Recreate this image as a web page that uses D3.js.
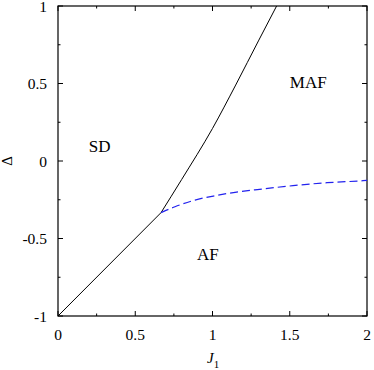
<!DOCTYPE html>
<html><head><meta charset="utf-8">
<script src="https://cdn.jsdelivr.net/npm/d3@7"></script>
<style>body{margin:0;background:#fff}svg{display:block}
svg text{font-family:"Liberation Serif","Times New Roman","DejaVu Serif",serif}</style>
</head><body>
<script>
// Data
const xTicks = [0, 0.5, 1, 1.5, 2];
const xTickLabels = ["0", "0.5", "1", "1.5", "2"];
const yTicks = [-1, -0.5, 0, 0.5, 1];
const yTickLabels = ["-1", "-0.5", "0", "0.5", "1"];
const xMinor = [0.25, 0.75, 1.25, 1.75];
const yMinor = [-0.75, -0.25, 0.25, 0.75];
// SD/AF boundary (solid)
const lowerJ = [0, 0.667];
const lowerD = [-1, -0.333];
// SD/MAF boundary (solid)
const upperJ = [0.667, 0.8, 1.0, 1.15, 1.3, 1.415];
const upperD = [-0.333, -0.12, 0.21, 0.49, 0.78, 1.0];
// MAF/AF boundary (dashed)
const dashJ = [0.667, 0.757, 0.887, 1.016, 1.146, 1.32, 1.521, 1.741, 1.974, 2.0];
const dashD = [-0.333, -0.295, -0.252, -0.224, -0.202, -0.181, -0.159, -0.140, -0.127, -0.125];
const regionNames = ["SD", "MAF", "AF"];
const regionJ = [0.27, 1.62, 0.97];
const regionD = [0.055, 0.47, -0.64];

const W = 374, H = 370;
const L = 58, R = 367, T = 6, B = 316;
const x = d3.scaleLinear().domain([0, 2]).range([L, R]);
const y = d3.scaleLinear().domain([-1, 1]).range([B, T]);

const svg = d3.select("body").append("svg").attr("width", W).attr("height", H);

// ticks (inward, all four sides)
const tk = svg.append("g").attr("stroke", "#000").attr("stroke-width", 1);
xTicks.forEach(v => {
  tk.append("line").attr("x1", x(v)).attr("x2", x(v)).attr("y1", B).attr("y2", B - 5);
  tk.append("line").attr("x1", x(v)).attr("x2", x(v)).attr("y1", T).attr("y2", T + 5);
});
xMinor.forEach(v => {
  tk.append("line").attr("x1", x(v)).attr("x2", x(v)).attr("y1", B).attr("y2", B - 2.5);
  tk.append("line").attr("x1", x(v)).attr("x2", x(v)).attr("y1", T).attr("y2", T + 2.5);
});
yTicks.forEach(v => {
  tk.append("line").attr("y1", y(v)).attr("y2", y(v)).attr("x1", L).attr("x2", L + 5);
  tk.append("line").attr("y1", y(v)).attr("y2", y(v)).attr("x1", R).attr("x2", R - 5);
});
yMinor.forEach(v => {
  tk.append("line").attr("y1", y(v)).attr("y2", y(v)).attr("x1", L).attr("x2", L + 2.5);
  tk.append("line").attr("y1", y(v)).attr("y2", y(v)).attr("x1", R).attr("x2", R - 2.5);
});

// frame
svg.append("rect").attr("x", L).attr("y", T).attr("width", R - L).attr("height", B - T)
  .attr("fill", "none").attr("stroke", "#000").attr("stroke-width", 1.2);

// tick labels
svg.append("g").selectAll("text").data(xTicks).join("text")
  .attr("x", d => x(d)).attr("y", B + 24).attr("text-anchor", "middle")
  .attr("font-size", 15.5).text((d, i) => xTickLabels[i]);
svg.append("g").selectAll("text").data(yTicks).join("text")
  .attr("x", L - 11).attr("y", d => y(d) + 5.5).attr("text-anchor", "end")
  .attr("font-size", 15.5).text((d, i) => yTickLabels[i]);

// axis titles
const xl = svg.append("text").attr("x", 207).attr("y", 362.5).attr("font-size", 15);
xl.append("tspan").attr("font-style", "italic").text("J");
xl.append("tspan").attr("font-size", 11).attr("dy", 5).text("1");
svg.append("text").attr("transform", "translate(12,161) rotate(-90)")
  .attr("text-anchor", "middle").attr("font-size", 15).text("Δ");

// lines
const line = d3.line().x(d => x(d[0])).y(d => y(d[1]));
svg.append("path").datum(lowerJ.map((j, i) => [j, lowerD[i]]))
  .attr("d", line).attr("fill", "none").attr("stroke", "#000").attr("stroke-width", 1);
svg.append("path").datum(upperJ.map((j, i) => [j, upperD[i]]))
  .attr("d", line.curve(d3.curveMonotoneX)).attr("fill", "none").attr("stroke", "#000").attr("stroke-width", 1);
svg.append("path").datum(dashJ.map((j, i) => [j, dashD[i]]))
  .attr("d", line.curve(d3.curveMonotoneX)).attr("fill", "none").attr("stroke", "#2222ee")
  .attr("stroke-width", 1.2).attr("stroke-dasharray", "8,4");

// region labels
svg.append("g").selectAll("text").data(regionNames).join("text")
  .attr("x", (d, i) => x(regionJ[i])).attr("y", (d, i) => y(regionD[i]))
  .attr("text-anchor", "middle").attr("font-size", 17).text(d => d);
</script>
</body></html>
